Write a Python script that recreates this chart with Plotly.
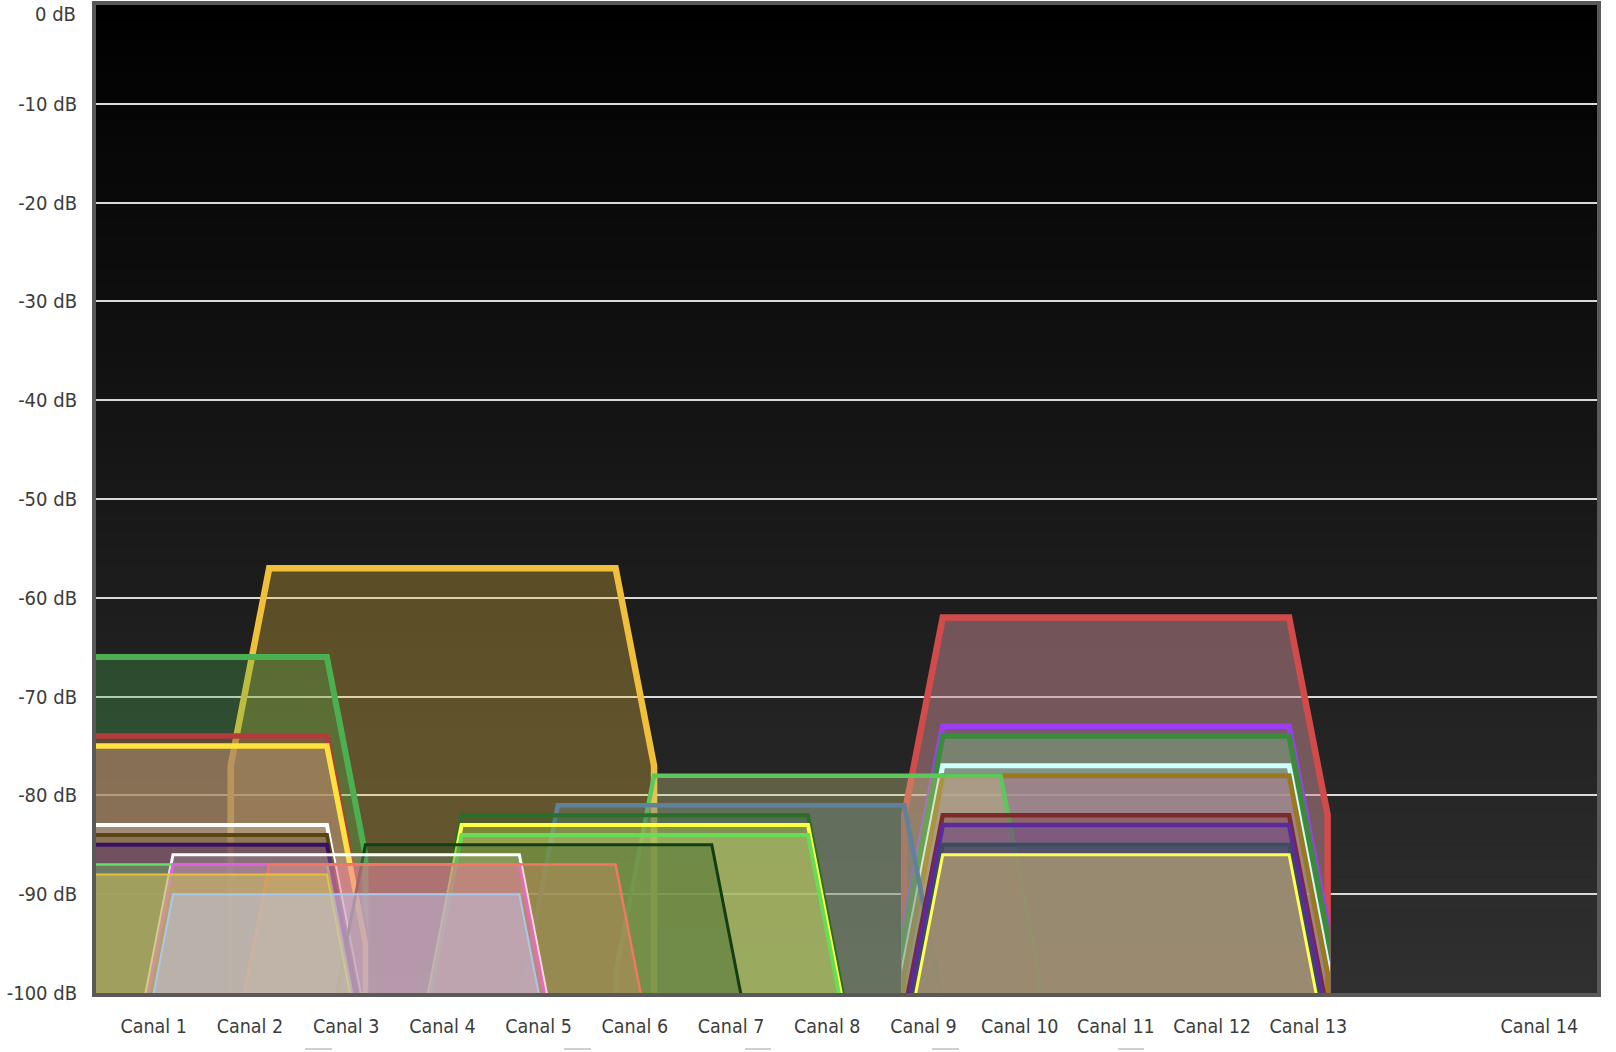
import plotly.graph_objects as go

# ---- data -------------------------------------------------------------
channel_numbers = list(range(1, 15))
channel_labels = ["Canal %d" % n for n in channel_numbers]
channel_freqs = [2407 + 5 * n for n in range(1, 14)] + [2484]

# networks in drawing order (strongest first)
net_channels = [4, 11, 1, 11, 1, 11, 1, 11, 11, 8, 7, 11, 6, 1, 6, 11, 1, 6, 1, 11, 5, 3, 11, 1, 3, 4, 1, 3]
net_signals = [-57, -62, -66, -73, -74, -74, -75, -77, -78, -78, -81, -82, -82, -83, -83, -83, -84, -84,
               -85, -85, -85, -86, -86, -87, -87, -87, -88, -90]

y_ticks = [0, -10, -20, -30, -40, -50, -60, -70, -80, -90, -100]
y_labels = ["%d dB" % v for v in y_ticks]

# ---- styles -----------------------------------------------------------
line_colors = ["#f0c03c", "#d24b4b", "#4caf50", "#9b3ff0", "#b23c3c", "#3a8c3a", "#ffe23d", "#ccffff",
               "#9a7820", "#5cc85c", "#5f819b", "#7d2a2a", "#2a6e2a", "#ffffff", "#ffff44", "#5a2a9e",
               "#5a4510", "#66dd55", "#3a1060", "#3c4c5c", "#143d14", "#ffffff", "#ffff55", "#66dd66",
               "#e060e0", "#f07860", "#e8c040", "#a8c8e8"]
fill_colors = ["rgba(240,192,64,0.30)", "rgba(200,138,146,0.50)", "rgba(76,175,80,0.30)",
               "rgba(150,80,230,0.15)", "rgba(185,64,64,0.30)", "rgba(119,173,114,0.50)",
               "rgba(182,149,117,0.50)", "rgba(200,255,255,0.15)", "rgba(176,113,139,0.50)",
               "rgba(200,200,130,0.35)", "rgba(107,132,127,0.40)", "rgba(120,30,40,0.30)",
               "rgba(50,110,50,0.30)", "rgba(255,255,255,0.20)", "rgba(230,230,80,0.30)",
               "rgba(108,80,145,0.50)", "rgba(80,60,10,0.30)", "rgba(193,206,118,0.40)",
               "rgba(80,30,110,0.40)", "rgba(40,70,90,0.50)", "rgba(20,70,20,0.30)",
               "rgba(255,255,255,0.15)", "rgba(200,177,115,0.60)", "rgba(110,200,110,0.35)",
               "rgba(230,100,200,0.35)", "rgba(240,140,110,0.30)", "rgba(200,190,90,0.55)",
               "rgba(190,200,240,0.45)"]
line_widths = [6.5, 6.5, 6, 5.5, 5.5, 5.5, 5.5, 5, 5, 4.5, 4.5, 4.5, 4, 4, 4, 4.5, 4, 4, 4, 4,
               3, 3, 3, 2.5, 3, 2.5, 2, 2]

FONT = "DejaVu Sans Condensed, DejaVu Sans, sans-serif"
TXT = "#3c3c3c"

fig = go.Figure()

for ch, sig, lc, fc, lw in zip(net_channels, net_signals, line_colors, fill_colors, line_widths):
    f = channel_freqs[ch - 1]
    xs = [f - 11, f - 11, f - 9, f + 9, f + 11, f + 11]
    ys = [-100, sig - 20, sig, sig, sig - 20, -100]
    fig.add_trace(go.Scatter(
        x=xs, y=ys, mode="lines", fill="toself", fillcolor=fc,
        line=dict(color=lc, width=lw), hoverinfo="skip", showlegend=False,
    ))

# background vertical gradient (black at top -> dark grey at bottom)
shapes = []
N = 60
for k in range(N):
    g = int(round(48 * (k + 0.5) / N))
    shapes.append(dict(type="rect", xref="paper", yref="paper", x0=0, x1=1,
                       y0=1 - (k + 1) / N, y1=1 - k / N + 0.0005,
                       fillcolor="rgb(%d,%d,%d)" % (g, g, g), line=dict(width=0), layer="below"))

# plot frame
W, H, L, R, T, B = 1616, 1052, 96, 19, 5, 59
pw, ph = W - L - R, H - T - B
dx, dy = 2.0 / pw, 2.0 / ph
shapes.append(dict(type="rect", xref="paper", yref="paper", x0=-dx, x1=1 + dx, y0=-dy, y1=1 + dy,
                   line=dict(color="#595959", width=4), fillcolor="rgba(0,0,0,0)", layer="above"))

# small grey dashes along the bottom edge of the page
for xa, xb in [(305, 332), (564, 591), (745, 771), (932, 959), (1118, 1144)]:
    yy = -(1049 - (H - B)) / ph
    shapes.append(dict(type="line", xref="paper", yref="paper",
                       x0=(xa - L) / pw, x1=(xb - L) / pw, y0=yy, y1=yy,
                       line=dict(color="#d0d0d0", width=2)))

# the top tick label sits just below the top edge of the page
annotations = [dict(text=y_labels[0], xref="paper", yref="paper", x=0, y=1,
                    xanchor="right", yanchor="top", xshift=-18, yshift=5, showarrow=False,
                    font=dict(family=FONT, size=20, color=TXT))]

fig.update_layout(
    width=W, height=H,
    margin=dict(l=L, r=R, t=T, b=B, pad=0, autoexpand=False),
    paper_bgcolor="white", plot_bgcolor="black",
    shapes=shapes, annotations=annotations,
    showlegend=False,
    font=dict(family=FONT, size=20, color=TXT),
)
fig.update_xaxes(range=[2409, 2487], tickvals=channel_freqs, ticktext=channel_labels,
                 showgrid=False, zeroline=False, showline=False, ticks="", automargin=False,
                 ticklabelstandoff=19, ticklabeloverflow="allow",
                 tickfont=dict(family=FONT, size=19.5, color=TXT))
fig.update_yaxes(range=[-100, 0], tickvals=y_ticks, ticktext=[""] + y_labels[1:],
                 showgrid=True, gridcolor="#dadada", gridwidth=1.5, zeroline=False, showline=False,
                 ticks="", automargin=False, ticklabelstandoff=18, ticklabeloverflow="allow",
                 tickfont=dict(family=FONT, size=20, color=TXT))

fig.write_html("out.html", config={"displayModeBar": False},
               post_script="document.body.style.margin='0px';document.body.style.overflow='hidden';")
